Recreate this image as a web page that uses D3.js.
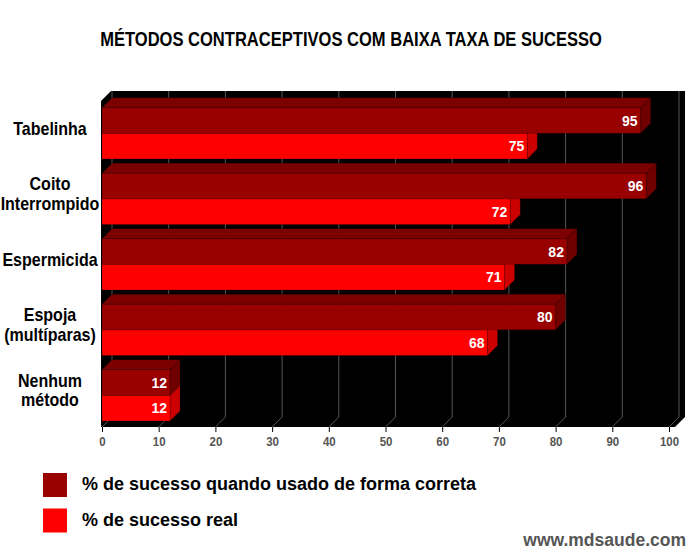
<!DOCTYPE html>
<html><head><meta charset="utf-8">
<script src="https://cdn.jsdelivr.net/npm/d3@7/dist/d3.min.js"></script>
<style>
html,body{margin:0;padding:0;background:#fff;}
svg{display:block;}
</style></head>
<body>
<svg id="chart" width="700" height="555"></svg>
<script>
const title = "MÉTODOS CONTRACEPTIVOS COM BAIXA TAXA DE SUCESSO";
const categories = ["Tabelinha", "Coito Interrompido", "Espermicida", "Espoja (multíparas)", "Nenhum método"];
const categoryLines = [["Tabelinha"], ["Coito", "Interrompido"], ["Espermicida"], ["Espoja", "(multíparas)"], ["Nenhum", "método"]];
const seriesNames = ["% de sucesso quando usado de forma correta", "% de sucesso real"];
const correctUse = [95, 96, 82, 80, 12];
const realUse = [75, 72, 71, 68, 12];
const xTicks = [0, 10, 20, 30, 40, 50, 60, 70, 80, 90, 100];
const watermark = "www.mdsaude.com";

const svg = d3.select("#chart");
const sans = "'Liberation Sans',Arial,Helvetica,sans-serif";

const X0 = 101, X1 = 675, Y0 = 101, Y1 = 427, DX = 10, DY = -10;
const x = d3.scaleLinear().domain([0, 100]).range([102, 669]);
const y = d3.scaleBand().domain(categories).range([101, 427.6]).paddingInner(0.2183).paddingOuter(0.1023);
const ys = d3.scaleBand().domain(seriesNames).range([0, y.bandwidth()]);

const colors = {
  [seriesNames[0]]: {front: "#990000", top: "#7c0000", side: "#700000"},
  [seriesNames[1]]: {front: "#ff0000", top: "#e00000", side: "#cc0000"}
};

// title (condensed look)
const tt = svg.append("text").attr("text-anchor", "middle")
  .style("font-family", sans).style("font-weight", "bold").style("font-size", "20px")
  .attr("fill", "#000").text(title);
const tw = tt.node().getComputedTextLength();
const tsx = Math.min(1, 502 / tw);
tt.attr("transform", `translate(351,46) scale(${tsx},1)`);

// black 3D plot box
svg.append("path")
  .attr("d", `M${X0},${Y0} L${X0+DX},${Y0+DY} L${X1+DX},${Y0+DY} L${X1+DX},${Y1+DY} L${X1},${Y1} L${X0},${Y1} Z`)
  .attr("fill", "#000");

// gridlines (back wall + floor)
const grid = svg.append("g");
xTicks.forEach(v => {
  grid.append("path")
    .attr("d", `M${x(v)+DX},${Y0+DY} L${x(v)+DX},${Y1+DY} L${x(v)},${Y1}`)
    .attr("fill", "none").attr("stroke", "#555").attr("stroke-width", 1);
});

// bars
const bars = svg.append("g");
function bar3d(g, x0, x1, y0, h, c) {
  const f = `M${x0},${y0} L${x1},${y0} L${x1},${y0+h} L${x0},${y0+h} Z`;
  const t = `M${x0},${y0} L${x0+DX},${y0+DY} L${x1+DX},${y0+DY} L${x1},${y0} Z`;
  const s = `M${x1},${y0} L${x1+DX},${y0+DY} L${x1+DX},${y0+h+DY} L${x1},${y0+h} Z`;
  g.append("path").attr("d", t).attr("fill", c.top).attr("stroke", "rgba(0,0,0,0.25)").attr("stroke-width", 0.8);
  g.append("path").attr("d", s).attr("fill", c.side).attr("stroke", "rgba(0,0,0,0.25)").attr("stroke-width", 0.8);
  g.append("path").attr("d", f).attr("fill", c.front).attr("stroke", "rgba(0,0,0,0.25)").attr("stroke-width", 0.8);
}
categories.forEach((cat, i) => {
  const g = bars.append("g");
  const vals = [correctUse[i], realUse[i]];
  [1, 0].forEach(k => {
    const s = seriesNames[k];
    const yy = y(cat) + ys(s);
    bar3d(g, x(0), x(vals[k]), yy, ys.bandwidth(), colors[s]);
  });
  [0, 1].forEach(k => {
    const s = seriesNames[k];
    const yy = y(cat) + ys(s) + ys.bandwidth() / 2;
    g.append("text").attr("x", x(vals[k]) - 3).attr("y", yy).attr("dy", "0.36em")
      .attr("text-anchor", "end").attr("fill", "#fff")
      .style("font-family", sans).style("font-weight", "bold").style("font-size", "14px")
      .text(vals[k]);
  });
});

// category labels
categories.forEach((cat, i) => {
  const lines = categoryLines[i];
  const cy = y(cat) + DY / 2 + y.bandwidth() / 2;
  const lh = 19.5;
  lines.forEach((ln, j) => {
    const ty = cy + (j - (lines.length - 1) / 2) * lh;
    svg.append("text").attr("text-anchor", "middle")
      .attr("transform", `translate(50,${ty}) scale(0.91,1)`)
      .attr("dy", "0.36em")
      .style("font-family", sans).style("font-weight", "bold").style("font-size", "17.6px")
      .attr("fill", "#000").text(ln);
  });
});

// x axis
const axis = svg.append("g").attr("transform", `translate(0,${Y1})`)
  .call(d3.axisBottom(x).tickValues(xTicks).tickSize(5).tickPadding(4).tickFormat(d3.format("d")));
axis.select(".domain").remove();
axis.selectAll(".tick line").attr("stroke", "#000");
axis.selectAll(".tick text").attr("fill", "#555").attr("transform", "scale(0.85,1)")
  .style("font-family", sans).style("font-weight", "bold").style("font-size", "13.5px");

// legend
const leg = svg.append("g");
seriesNames.forEach((s, i) => {
  const ly = 473 + i * 35.5;
  leg.append("rect").attr("x", 43).attr("y", ly).attr("width", 24).attr("height", 24).attr("fill", colors[s].front);
  leg.append("text").attr("x", 82).attr("y", ly + 17).attr("fill", "#000")
    .style("font-family", sans).style("font-weight", "bold").style("font-size", "18px").text(s);
});

// watermark
svg.append("text").attr("x", 686).attr("y", 546).attr("text-anchor", "end").attr("fill", "#555")
  .style("font-family", sans).style("font-weight", "bold").style("font-size", "17.5px").text(watermark);
</script>
</body></html>
